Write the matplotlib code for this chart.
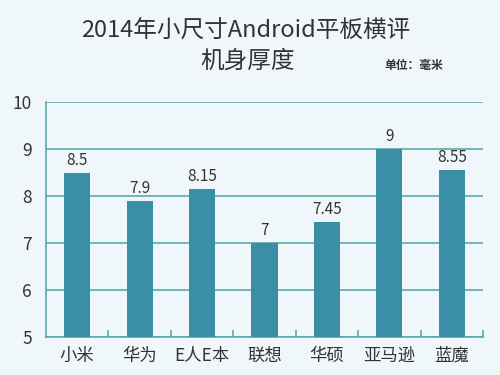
import numpy as np
import matplotlib
matplotlib.use("Agg")
import matplotlib.pyplot as plt

plt.rcParams['font.family'] = ['Noto Sans CJK SC', 'DejaVu Sans']

brands = ['小米', '华为', 'E人E本', '联想', '华硕', '亚马逊', '蓝魔']
thickness = [8.5, 7.9, 8.15, 7, 7.45, 9, 8.55]
value_labels = ['8.5', '7.9', '8.15', '7', '7.45', '9', '8.55']

bg = '#f0f7fa'
bar_color = '#3a8ea5'
grid_color = '#5aabab'
text_color = '#333333'

fig = plt.figure(figsize=(5, 3.75), dpi=100, facecolor=bg)
ax = fig.add_axes([0.092, 0.101, 0.874, 0.627], facecolor=bg)

x = np.arange(len(brands))
ax.bar(x, thickness, width=0.42, bottom=0, color=bar_color, zorder=3)
for xi, v, lab in zip(x, thickness, value_labels):
    ax.text(xi, v + 0.08, lab, ha='center', va='bottom', fontsize=11, color=text_color)

ax.set_ylim(5, 10)
ax.set_xlim(-0.5, len(brands) - 0.5)
ax.set_yticks([5, 6, 7, 8, 9, 10])
ax.yaxis.grid(True, color=grid_color, linewidth=1.2, zorder=0)
ax.tick_params(axis='y', length=0, labelsize=12.5, labelcolor=text_color, pad=10)

ax.set_xticks(x)
ax.set_xticklabels(brands)
ax.tick_params(axis='x', length=0, labelsize=12.5, labelcolor=text_color, pad=7)
ax.set_xticks(list(np.arange(0.5, len(brands), 1)), minor=True)
ax.tick_params(axis='x', which='minor', direction='in', length=5, color=grid_color, width=1.2)

for side in ['top', 'right']:
    ax.spines[side].set_visible(False)
for side in ['left', 'bottom']:
    ax.spines[side].set_color(grid_color)
    ax.spines[side].set_linewidth(1.2)

fig.text(0.492, 0.918, '2014年小尺寸Android平板横评', ha='center', va='center',
         fontsize=17, color=text_color)
fig.text(0.496, 0.838, '机身厚度', ha='center', va='center',
         fontsize=17, color=text_color)
fig.text(0.828, 0.825, '单位：毫米', ha='center', va='center',
         fontsize=8.5, fontweight='bold', color=text_color)

fig.savefig('out.png', dpi=100, facecolor=bg)
